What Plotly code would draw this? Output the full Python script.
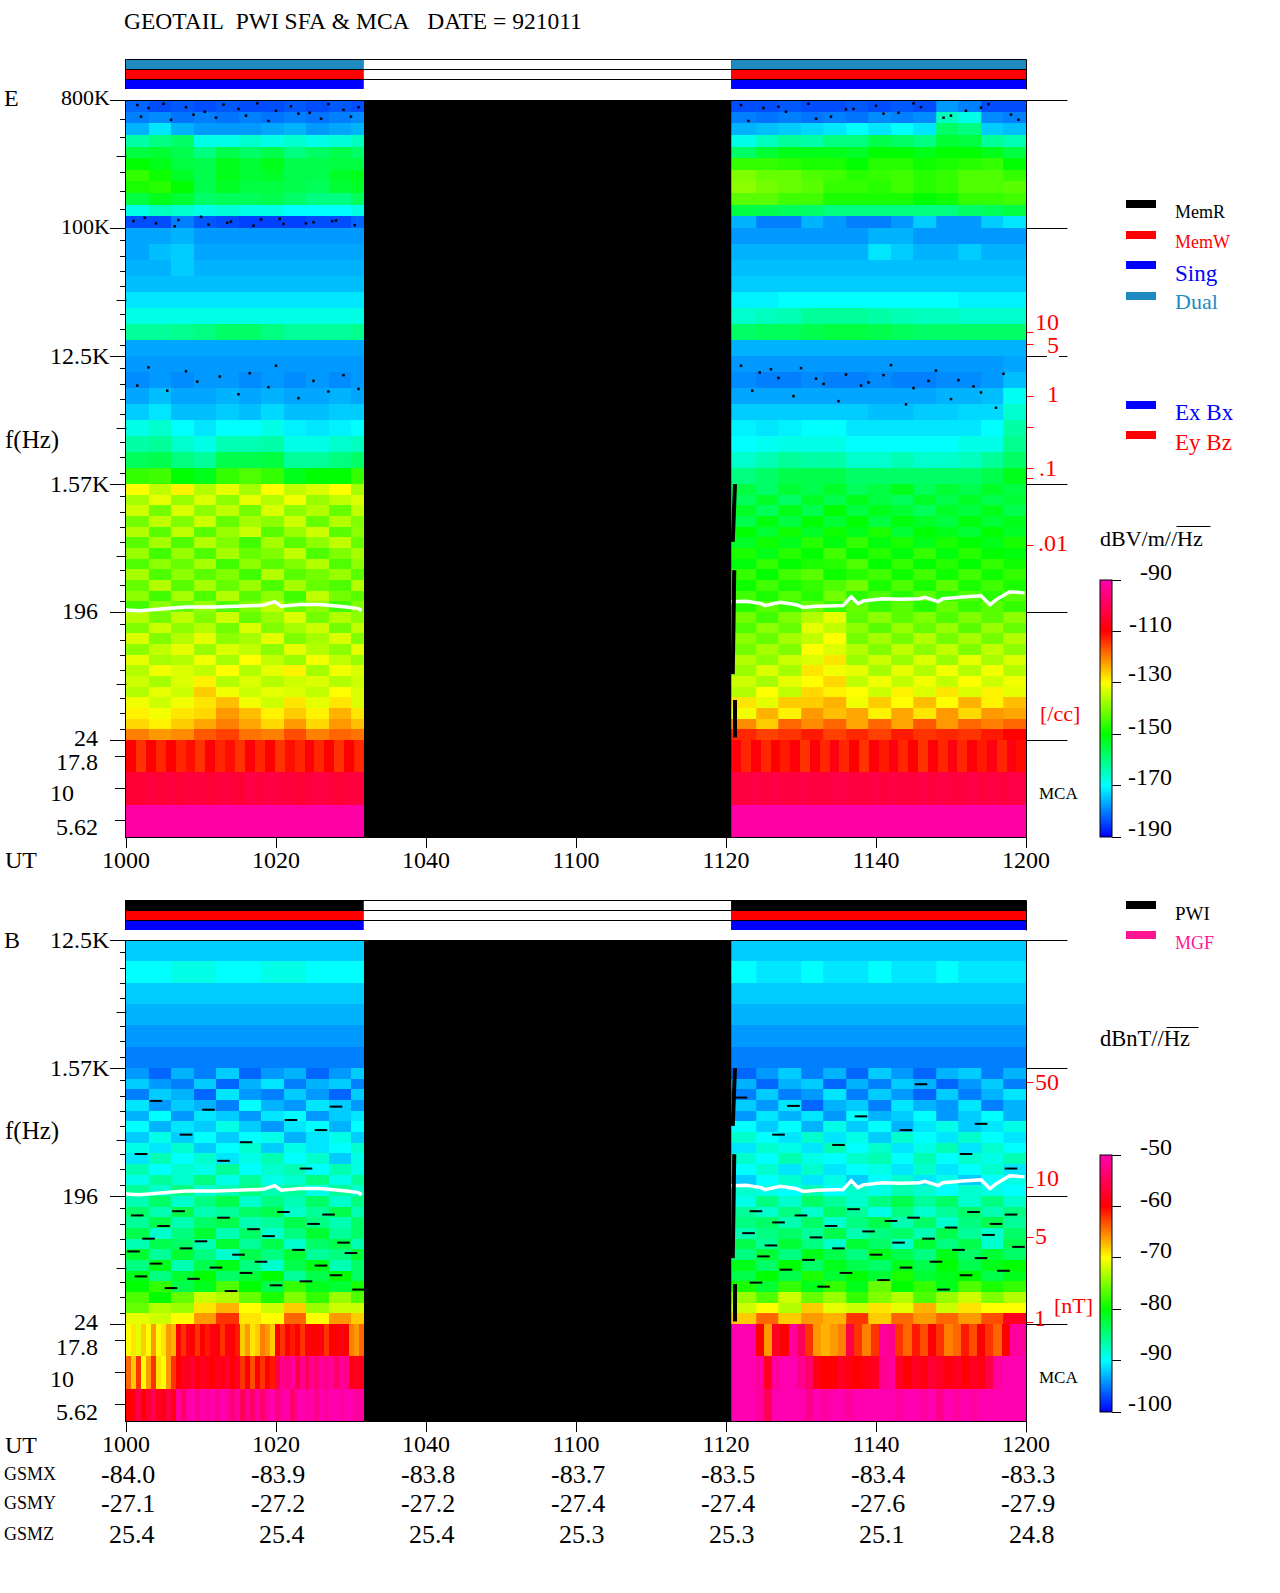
import numpy as np
import plotly.graph_objects as go

W, H = 1280, 1593
FONT = "Liberation Serif"
DUAL = "#1f8ac0"
PINK = "#ff1493"

# ---- time axis (minutes after 10:00) ----
UT_LABELS = ["1000", "1020", "1040", "1100", "1120", "1140", "1200"]
UT_TICKS = [0, 20, 40, 60, 80, 100, 120]
GSMX = ["-84.0", "-83.9", "-83.8", "-83.7", "-83.5", "-83.4", "-83.3"]
GSMY = ["-27.1", "-27.2", "-27.2", "-27.4", "-27.4", "-27.6", "-27.9"]
GSMZ = ["25.4", "25.4", "25.4", "25.3", "25.3", "25.1", "24.8"]
COL_L = [0, 3, 6, 9, 12, 15, 18, 21, 24, 27, 30, 31.7]
COL_R = [80.7, 84, 87, 90, 93, 96, 99, 102, 105, 108, 111, 114, 117, 120]

# ---- plasma line (Hz) ----
FP_T_L = [0, 1.8, 5.4, 8, 12, 15.2, 18.3, 19.8, 20.7, 23.2, 25.8, 29.4, 31, 31.4]
FP_F_L = [198, 196, 203, 208, 208, 211, 214, 227, 211, 217, 217, 208, 203, 196]
FP_T_R = [80.7, 82.7, 84.7, 85.2, 87.2, 89.4, 90.3, 92, 95.6, 96.7, 97.6, 98.3, 100.9, 103.2,
          105.8, 106.5, 108.3, 108.9, 112, 114, 115.2, 116, 117.8, 119.8]
FP_F_R = [227, 229, 220, 213, 225, 216, 207, 211, 213, 246, 220, 230, 238, 236,
          238, 244, 227, 238, 246, 250, 216, 234, 267, 262]

# ---- E field, high band (800K-100K), dB ----
E_A_L = [
 [-182,-184,-183,-184,-183,-184,-184,-183,-184,-183,-184],
 [-180,-179,-181,-180,-181,-180,-181,-180,-181,-180,-179],
 [-176,-172,-176,-178,-178,-178,-177,-176,-178,-177,-176],
 [-163,-160,-158,-168,-168,-166,-168,-166,-168,-167,-165],
 [-155,-154,-156,-160,-156,-158,-156,-160,-158,-156,-158],
 [-150,-152,-155,-156,-152,-154,-152,-156,-156,-155,-155],
 [-146,-149,-153,-156,-152,-154,-153,-156,-156,-153,-152],
 [-148,-147,-150,-156,-153,-155,-155,-156,-157,-154,-153],
 [-155,-152,-154,-158,-157,-157,-156,-158,-160,-160,-157],
 [-168,-165,-166,-168,-167,-168,-168,-170,-170,-170,-168],
 [-184,-184,-180,-183,-184,-185,-185,-185,-184,-184,-182]]
E_A_R = [
 [-184,-184,-183,-184,-184,-183,-184,-183,-184,-178,-180,-184,-184],
 [-180,-181,-180,-181,-180,-181,-179,-180,-179,-165,-168,-179,-180],
 [-176,-175,-174,-173,-172,-170,-172,-170,-172,-158,-160,-174,-175],
 [-168,-165,-162,-163,-160,-160,-156,-158,-160,-154,-155,-162,-164],
 [-158,-154,-152,-152,-152,-153,-150,-150,-152,-150,-150,-152,-155],
 [-146,-146,-147,-148,-148,-150,-147,-147,-149,-148,-147,-146,-150],
 [-140,-142,-142,-144,-145,-147,-146,-145,-147,-146,-144,-144,-146],
 [-139,-141,-142,-143,-146,-146,-147,-145,-147,-146,-144,-144,-143],
 [-143,-143,-145,-145,-148,-148,-148,-148,-150,-149,-146,-146,-145],
 [-155,-156,-157,-158,-160,-160,-160,-160,-160,-160,-158,-157,-155],
 [-176,-180,-180,-176,-178,-180,-180,-178,-174,-178,-178,-174,-172]]
# 100K-12.5K
E_B_L = [
 [-177,-177,-176,-178,-178,-178,-178,-178,-178,-178,-178],
 [-177,-175,-174,-177,-177,-177,-177,-177,-177,-177,-177],
 [-176,-176,-174,-176,-176,-176,-176,-176,-176,-176,-176],
 [-175,-175,-175,-175,-175,-175,-175,-175,-175,-175,-175],
 [-172,-172,-172,-172,-172,-172,-172,-172,-172,-172,-172],
 [-168,-168,-168,-168,-168,-168,-168,-168,-168,-168,-168],
 [-162,-162,-161,-160,-158,-158,-160,-162,-162,-162,-161],
 [-177,-177,-177,-177,-177,-177,-177,-177,-177,-177,-177]]
E_B_R = [
 [-178,-178,-178,-178,-178,-178,-176,-176,-178,-178,-178,-178,-178],
 [-176,-176,-176,-176,-176,-176,-172,-174,-176,-176,-174,-176,-176],
 [-175,-175,-175,-175,-175,-175,-175,-175,-175,-175,-175,-175,-175],
 [-174,-174,-174,-174,-174,-174,-174,-174,-174,-174,-174,-174,-174],
 [-171,-171,-170,-170,-170,-170,-170,-170,-170,-170,-171,-171,-171],
 [-166,-165,-164,-162,-162,-162,-163,-164,-165,-165,-166,-166,-166],
 [-158,-157,-157,-156,-155,-155,-156,-157,-158,-158,-158,-158,-158],
 [-176,-176,-176,-176,-176,-176,-176,-176,-176,-176,-176,-176,-176]]
# 12.5K-1.57K
E_C_L = [
 [-178,-178,-178,-178,-178,-178,-178,-178,-178,-178,-178],
 [-179,-178,-179,-178,-178,-179,-178,-179,-178,-179,-178],
 [-177,-175,-177,-177,-176,-177,-176,-177,-177,-176,-177],
 [-174,-172,-175,-175,-174,-175,-173,-175,-175,-174,-174],
 [-168,-166,-170,-172,-170,-170,-168,-171,-172,-171,-170],
 [-163,-162,-166,-168,-164,-164,-163,-168,-168,-166,-165],
 [-157,-156,-160,-162,-156,-156,-155,-162,-162,-160,-158],
 [-146,-145,-150,-152,-146,-144,-146,-152,-150,-150,-146]]
E_C_R = [
 [-178,-178,-178,-178,-178,-178,-178,-178,-178,-178,-178,-178,-177],
 [-179,-180,-180,-179,-180,-180,-179,-180,-180,-179,-179,-178,-175],
 [-177,-177,-177,-177,-177,-177,-177,-177,-177,-176,-176,-175,-169],
 [-174,-174,-174,-174,-174,-174,-175,-175,-174,-174,-173,-173,-166],
 [-171,-172,-171,-170,-170,-172,-172,-172,-172,-172,-172,-170,-163],
 [-170,-169,-168,-168,-168,-170,-170,-170,-170,-170,-168,-168,-161],
 [-166,-164,-162,-163,-163,-166,-166,-164,-166,-166,-165,-162,-158],
 [-160,-158,-156,-156,-156,-158,-158,-158,-158,-158,-158,-156,-152]]
# 1.57K-24
E_D_L = [
 [-130,-135,-129,-136,-132,-137,-130,-135,-133,-130,-137],
 [-137,-132,-138,-133,-139,-132,-136,-131,-138,-135,-133],
 [-134,-141,-133,-139,-135,-141,-133,-139,-136,-142,-135],
 [-141,-135,-140,-134,-142,-137,-139,-134,-142,-136,-140],
 [-136,-143,-135,-143,-138,-134,-143,-138,-134,-143,-139],
 [-143,-137,-144,-136,-140,-145,-137,-143,-139,-135,-142],
 [-138,-145,-138,-144,-137,-142,-140,-135,-144,-140,-137],
 [-144,-139,-142,-137,-145,-139,-143,-140,-136,-144,-139],
 [-137,-144,-139,-143,-140,-145,-136,-143,-141,-138,-143],
 [-142,-136,-143,-137,-142,-138,-144,-137,-142,-144,-136],
 [-139,-145,-137,-144,-136,-143,-139,-145,-135,-141,-143],
 [-145,-139,-142,-138,-144,-140,-135,-142,-139,-145,-140],
 [-136,-141,-135,-140,-134,-142,-138,-133,-141,-136,-139],
 [-140,-134,-139,-136,-141,-133,-140,-137,-134,-141,-135],
 [-133,-140,-136,-132,-139,-137,-132,-140,-137,-133,-140],
 [-139,-135,-132,-138,-133,-135,-139,-132,-136,-139,-132],
 [-132,-137,-136,-131,-137,-130,-135,-138,-131,-135,-138],
 [-136,-131,-133,-135,-130,-136,-132,-129,-137,-131,-133],
 [-134,-137,-133,-129,-136,-133,-136,-134,-133,-136,-134],
 [-136,-132,-134,-126,-131,-134,-132,-133,-135,-130,-133],
 [-131,-134,-131,-128,-125,-131,-134,-128,-132,-128,-133],
 [-129,-131,-128,-127,-122,-125,-129,-126,-129,-124,-128],
 [-127,-129,-126,-123,-120,-123,-127,-122,-127,-122,-125],
 [-120,-122,-121,-117,-115,-119,-120,-116,-120,-118,-119]]
E_D_R = [
 [-155,-158,-154,-156,-153,-157,-155,-152,-157,-154,-156,-153,-155],
 [-157,-153,-158,-153,-156,-152,-155,-157,-153,-156,-153,-156,-154],
 [-153,-157,-152,-156,-150,-155,-152,-154,-157,-153,-155,-152,-156],
 [-156,-151,-155,-150,-154,-150,-155,-151,-153,-155,-151,-154,-152],
 [-150,-154,-149,-153,-149,-152,-148,-154,-150,-152,-154,-150,-153],
 [-153,-149,-152,-147,-151,-146,-151,-148,-152,-148,-150,-152,-148],
 [-148,-152,-147,-150,-145,-150,-147,-151,-146,-151,-147,-150,-151],
 [-151,-146,-150,-148,-147,-144,-150,-146,-150,-147,-150,-146,-149],
 [-146,-150,-145,-143,-149,-147,-145,-149,-145,-149,-145,-149,-146],
 [-149,-145,-148,-146,-144,-141,-148,-144,-148,-143,-148,-145,-148],
 [-145,-148,-144,-147,-141,-147,-144,-147,-143,-147,-144,-147,-143],
 [-147,-143,-146,-142,-146,-142,-146,-143,-147,-142,-146,-143,-146],
 [-141,-145,-140,-136,-132,-143,-139,-143,-140,-144,-140,-143,-139],
 [-144,-139,-142,-132,-135,-139,-143,-138,-142,-138,-143,-138,-142],
 [-139,-142,-137,-135,-130,-141,-137,-141,-136,-141,-137,-141,-136],
 [-141,-137,-140,-130,-133,-136,-140,-135,-139,-135,-140,-135,-139],
 [-136,-139,-134,-133,-128,-138,-134,-138,-133,-138,-132,-137,-133],
 [-138,-133,-137,-128,-131,-132,-137,-132,-136,-131,-136,-131,-136],
 [-134,-137,-132,-130,-127,-135,-131,-135,-131,-135,-130,-134,-131],
 [-136,-130,-135,-127,-129,-130,-134,-129,-133,-128,-133,-129,-132],
 [-128,-132,-126,-126,-124,-131,-126,-130,-125,-130,-124,-129,-125],
 [-131,-124,-129,-122,-125,-123,-129,-123,-128,-122,-127,-122,-123],
 [-121,-126,-118,-121,-118,-123,-118,-123,-117,-122,-118,-120,-118],
 [-113,-115,-114,-112,-115,-113,-115,-112,-114,-113,-114,-112,-110]]
# MCA rows, E: 17.8, 10, 5.62
E_M178_L = [-110,-114,-110,-113,-110,-113,-111,-114,-109,-113,-111,-114,-109,-113,-110,-114,-111,-113,-109,-113,-110,-114,-110,-113]
E_M178_R = [-109,-113,-109,-113,-110,-112,-109,-114,-109,-113,-108,-113,-110,-114,-109,-112,-108,-113,-110,-114,-109,-113,-108,-113,-109,-112,-108,-113,-108,-111]
E_M10_L = [-104,-104,-103,-104,-103,-104,-103,-103,-104,-103,-103,-104,-102,-103,-102,-103,-103,-104,-103,-102,-103,-104,-103,-103]
E_M10_R = [-103,-103,-102,-103,-102,-103,-103,-102,-103,-103,-102,-102,-103,-103,-102,-103,-102,-103,-103,-102,-103,-102,-103,-103,-102,-103,-102,-103,-102,-102]
E_M5_L = [-91, -91, -91, -91, -91, -91, -91, -91, -91, -91, -91, -91, -91, -91, -91, -91, -91, -91, -91, -91, -91, -91, -91, -91]
E_M5_R = [-91, -91, -91, -91, -91, -91, -91, -91, -91, -91, -91, -91, -91, -91, -91, -91, -91, -91, -91, -91, -91, -91, -91, -91, -91, -91, -91, -91, -91, -91]

# ---- B field, 12.5K-1.57K, dB ----
B_C_L = [
 [-92,-92,-92,-92,-92,-92,-92,-92,-92,-92,-92],
 [-90,-90,-89,-89,-90,-90,-89,-89,-90,-90,-90],
 [-92,-92,-92,-92,-92,-92,-92,-92,-92,-92,-92],
 [-93,-93,-93,-93,-93,-93,-93,-93,-93,-93,-93],
 [-94,-94,-94,-94,-94,-94,-94,-94,-94,-94,-94],
 [-95,-95,-95,-95,-95,-95,-95,-95,-95,-95,-95]]
B_C_R = [
 [-92,-92,-92,-92,-92,-92,-92,-92,-92,-92,-92,-92,-92],
 [-90,-91,-91,-90,-91,-91,-90,-91,-91,-90,-91,-91,-91],
 [-92,-92,-92,-92,-92,-92,-92,-92,-92,-92,-92,-92,-92],
 [-93,-93,-93,-93,-93,-93,-93,-93,-93,-93,-93,-93,-93],
 [-94,-94,-94,-94,-94,-94,-94,-94,-94,-94,-94,-94,-94],
 [-95,-95,-95,-95,-95,-95,-95,-95,-95,-95,-95,-95,-95]]
# 1.57K-24
B_D_L = [
 [-94,-96,-93,-95,-92,-96,-94,-93,-96,-94,-92],
 [-92,-94,-95,-92,-96,-93,-91,-95,-93,-92,-95],
 [-95,-92,-93,-96,-91,-94,-95,-92,-94,-96,-92],
 [-91,-94,-92,-93,-95,-90,-93,-94,-91,-92,-94],
 [-93,-90,-94,-91,-92,-94,-91,-90,-94,-92,-91],
 [-90,-93,-91,-92,-89,-92,-94,-91,-90,-93,-90],
 [-92,-89,-92,-90,-92,-90,-89,-93,-91,-89,-92],
 [-89,-91,-88,-92,-90,-88,-92,-89,-91,-90,-88],
 [-91,-87,-90,-88,-91,-89,-87,-90,-88,-92,-89],
 [-87,-90,-88,-89,-86,-90,-88,-87,-90,-87,-89],
 [-89,-86,-88,-85,-89,-86,-89,-88,-85,-89,-86],
 [-86,-88,-85,-88,-87,-85,-87,-86,-89,-86,-88],
 [-87,-84,-88,-85,-83,-88,-85,-87,-84,-88,-85],
 [-84,-87,-83,-87,-86,-84,-83,-88,-86,-83,-87],
 [-86,-83,-87,-84,-83,-87,-86,-83,-85,-87,-84],
 [-83,-88,-85,-82,-87,-84,-88,-85,-82,-86,-84],
 [-87,-83,-84,-87,-82,-86,-83,-88,-84,-83,-87],
 [-82,-86,-82,-85,-88,-83,-85,-82,-86,-85,-82],
 [-85,-81,-87,-83,-81,-85,-88,-83,-81,-87,-84],
 [-81,-85,-82,-80,-84,-82,-80,-86,-83,-80,-84],
 [-80,-78,-83,-81,-77,-80,-83,-78,-81,-82,-79],
 [-77,-80,-76,-72,-73,-76,-79,-75,-78,-74,-77],
 [-76,-73,-74,-69,-67,-70,-72,-68,-74,-72,-72],
 [-71,-72,-70,-66,-62,-69,-70,-64,-70,-66,-68]]
B_D_R = [
 [-96,-94,-92,-95,-93,-96,-92,-94,-96,-93,-92,-95,-93],
 [-93,-96,-93,-92,-96,-93,-95,-92,-93,-96,-94,-92,-95],
 [-95,-92,-95,-94,-91,-95,-92,-94,-96,-92,-95,-93,-91],
 [-92,-94,-91,-96,-93,-92,-95,-91,-93,-94,-91,-95,-93],
 [-94,-91,-93,-91,-94,-90,-93,-92,-90,-94,-92,-90,-93],
 [-90,-92,-90,-93,-89,-92,-90,-93,-91,-89,-92,-91,-89],
 [-88,-90,-91,-88,-91,-89,-92,-88,-90,-91,-88,-90,-91],
 [-91,-88,-89,-91,-87,-90,-88,-91,-89,-87,-91,-88,-90],
 [-88,-90,-87,-89,-90,-88,-87,-90,-87,-90,-88,-89,-87],
 [-90,-88,-91,-88,-91,-90,-89,-91,-88,-91,-90,-88,-91],
 [-92,-90,-88,-91,-89,-92,-90,-88,-91,-89,-92,-90,-89],
 [-88,-89,-90,-87,-90,-88,-89,-87,-88,-90,-88,-89,-90],
 [-89,-85,-88,-84,-86,-88,-85,-83,-86,-84,-88,-85,-88],
 [-86,-88,-85,-88,-84,-86,-89,-85,-88,-86,-84,-87,-85],
 [-85,-84,-87,-84,-88,-85,-83,-87,-84,-88,-85,-83,-86],
 [-87,-85,-84,-86,-83,-87,-85,-84,-87,-83,-86,-88,-84],
 [-83,-86,-82,-85,-88,-82,-84,-88,-82,-85,-83,-88,-83],
 [-85,-82,-85,-81,-83,-85,-81,-83,-85,-81,-84,-82,-84],
 [-81,-84,-80,-84,-81,-83,-84,-81,-83,-80,-83,-81,-80],
 [-83,-80,-83,-79,-82,-80,-82,-79,-82,-81,-80,-83,-81],
 [-79,-82,-78,-81,-78,-81,-76,-80,-78,-81,-77,-79,-78],
 [-74,-77,-72,-76,-74,-78,-75,-73,-77,-74,-72,-75,-73],
 [-72,-70,-73,-68,-71,-72,-69,-71,-67,-72,-69,-70,-70],
 [-68,-64,-68,-66,-67,-62,-68,-64,-66,-64,-66,-63,-58]]
# MCA rows, B
B_M178_L = [-70,-69,-71,-68,-70,-66,-70,-69,-66,-67,-60,-62,-59,-60,-62,-60,-61,-59,-60,-62,-59,-60,-61,-68,-66,-69,-68,-65,-66,-68,-60,-62,-60,-61,-60,-62,-59,-60,-60,-59,-62,-60,-60,-59,-60,-65,-66,-64]
B_M10_L = [-64,-68,-62,-70,-66,-62,-69,-70,-66,-62,-60,-58,-59,-57,-60,-58,-59,-60,-58,-59,-57,-60,-58,-62,-60,-63,-60,-62,-60,-61,-56,-52,-53,-51,-56,-52,-55,-52,-53,-51,-52,-51,-54,-51,-52,-59,-58,-59]
B_M5_L = [-60,-59,-56,-60,-57,-55,-58,-59,-56,-59,-51,-54,-51,-50,-52,-50,-51,-50,-52,-50,-51,-53,-51,-55,-52,-54,-51,-54,-51,-50,-53,-51,-50,-54,-51,-50,-51,-50,-52,-50,-51,-50,-50,-51,-50,-50,-51,-51]
B_M178_R = [-50,-50,-50,-60,-66,-58,-60,-51,-55,-62,-66,-67,-66,-65,-56,-62,-65,-62,-51,-52,-62,-64,-61,-63,-60,-62,-65,-64,-61,-63,-60,-62,-64,-60,-51,-51]
B_M10_R = [-50,-50,-50,-51,-58,-51,-50,-50,-52,-54,-59,-60,-60,-58,-59,-60,-59,-58,-52,-51,-58,-60,-58,-59,-57,-58,-59,-58,-60,-58,-59,-56,-51,-50,-50,-50]
B_M5_R = [-50,-50,-50,-51,-55,-50,-50,-50,-50,-52,-50,-51,-50,-50,-51,-50,-50,-50,-50,-50,-51,-50,-50,-51,-50,-52,-50,-51,-50,-51,-50,-50,-50,-50,-50,-50]

MCA_FREQ = ["5.62", "10", "17.8"]
# ---- data gap edges at restart (minutes, Hz) ----
GAP_T = [81.2, 80.9, None, 81.1, 80.9, None, 81.2, 81.2]
GAP_F = [1536, 600, None, 379, 70, None, 46, 25]
# ---- dropout specks (minutes, Hz) ----
E_SPECK_T = [1.5, 3, 5, 8, 10.5, 13, 15, 17.5, 20, 22, 24.5, 27, 29, 31, 2, 6, 9, 12, 16, 19, 23, 26, 30,
             1, 4, 7, 11, 14, 18, 21, 25, 28, 30.5, 2.5, 6.5, 10, 13.5, 17, 20.5, 24, 27.5,
             3, 8, 12.5, 16.5, 20, 25, 29, 1.5, 5.5, 9.5, 15, 19, 23, 27, 31,
             82, 85, 88, 91, 94, 97, 100, 103, 106, 109, 112, 115, 118, 83, 87, 92, 96, 101, 105, 110, 114, 119,
             82, 84.5, 87, 90, 93, 96, 99, 102, 105, 108, 111, 114, 117, 83.5, 86, 89, 92, 95, 98, 101, 104, 107, 110, 113, 116]
E_SPECK_F = [725000, 690000, 740000, 700000, 650000, 730000, 680000, 745000, 660000, 710000, 640000, 735000, 670000, 700000,
             600000, 570000, 620000, 590000, 610000, 560000, 630000, 580000, 600000,
             110000, 106000, 112000, 104000, 109000, 113000, 105000, 108000, 111000, 103000, 116000, 101000, 118000, 107000, 102000, 114000, 106000, 110000,
             10200, 9600, 8800, 9300, 10500, 8200, 9000, 7600, 7000, 8100, 6600, 7400, 6200, 6900, 7200,
             725000, 690000, 650000, 740000, 600000, 680000, 715000, 640000, 700000, 590000, 660000, 735000, 620000, 560000, 705000, 580000, 675000, 630000, 745000, 610000, 695000, 570000,
             10500, 9400, 8600, 10100, 7800, 9100, 8000, 10600, 7300, 9700, 8300, 6800, 9200, 7000, 9900, 6400, 8500, 5900, 7600, 9000, 5600, 8200, 6100, 7500, 5300]
B_STREAK_T = [1.5, 7, 13, 21, 27, 5, 17, 25, 3, 10, 19, 29, 1, 8, 15, 23, 30, 4, 12, 18, 26, 2, 9, 16, 24, 28, 6, 14, 20, 31,
              4, 11, 22, 28, 8, 16, 26, 2, 13, 24,
              84, 90, 97, 105, 113, 118, 87, 94, 102, 110, 116, 83, 92, 99, 107, 115, 86, 95, 103, 111, 119, 85, 91, 100, 108, 114, 88, 96, 104, 112, 117, 84, 93, 101, 109,
              82, 89, 98, 106, 114, 87, 95, 104, 112, 118]
B_STREAK_F = [140, 150, 135, 148, 142, 118, 112, 122, 96, 92, 100, 90, 78, 82, 74, 80, 76, 64, 60, 66, 62, 52, 50, 55, 48, 53, 43, 41, 45, 42,
              900, 780, 660, 820, 520, 460, 560, 380, 340, 300,
              150, 140, 155, 135, 148, 142, 125, 118, 128, 115, 122, 105, 98, 108, 96, 102, 86, 82, 90, 80, 84, 72, 68, 74, 66, 70, 58, 55, 60, 53, 57, 47, 44, 49, 42,
              950, 830, 700, 1180, 620, 520, 440, 560, 380, 300]
# ---- telemetry status ----
STATUS_START = [0, 31.7, 80.7]
STATUS_DUR = [31.7, 49, 39.3]
E_STATUS = [["blue", "white", "blue"], ["red", "white", "red"], [DUAL, "white", DUAL]]
B_STATUS = [["blue", "white", "blue"], ["red", "white", "red"], ["black", "white", "black"]]

CS = [[0, "#0000ff"], [0.2, "#00ffff"], [0.4, "#00ff00"], [0.6, "#ffff00"], [0.8, "#ff0000"], [1, "#ff00b0"]]

px = lambda x: x / W
py = lambda y: 1 - y / H
hz = lambda y, base: 24 * 8 ** ((base - y) / 128)

fig = go.Figure()
XD = [px(126), px(1026)]
LOGR = [np.log10(24), np.log10(786432)]
shapes, notes = [], []


def add_heat(z, x, y, xa, ya, ca):
    fig.add_trace(go.Heatmap(z=z[::-1], x=x, y=y[::-1], xaxis=xa, yaxis=ya, coloraxis=ca, hoverinfo="skip"))


def line(x0, y0, x1, y1, c="black", w=1):
    shapes.append(dict(type="line", xref="paper", yref="paper", x0=px(x0 + 0.5), x1=px(x1 + 0.5), y0=py(y0 + 0.5), y1=py(y1 + 0.5),
                       line=dict(color=c, width=w)))


def note(x, y, t, c="black", s=24, a="center", bg=None):
    d = dict(xref="paper", yref="paper", x=px(x), y=py(y), text=t, showarrow=False, xanchor=a, yanchor="middle",
             font=dict(family=FONT, size=s, color=c), borderpad=0, borderwidth=0)
    if bg:
        d["bgcolor"] = bg
    notes.append(d)


def panel(suffix, ca, bands, mca, status, marks):
    xa = "x" + suffix[0]
    y_sfa, y_mca, y_st = suffix[1], suffix[2], suffix[3]
    for (zl, zr, f_hi, f_lo) in bands:
        edges = np.geomspace(f_hi, f_lo, len(zl) + 1).tolist()
        add_heat(zl, COL_L, edges, xa, y_sfa, ca)
        add_heat(zr, COL_R, edges, xa, y_sfa, ca)
    for zrows, edges_t in mca:
        fig.add_trace(go.Heatmap(z=zrows, x=edges_t, y=MCA_FREQ, xaxis=xa, yaxis=y_mca, coloraxis=ca, hoverinfo="skip"))
    fig.add_trace(go.Scatter(x=marks[0], y=marks[1], mode="markers", xaxis=xa, yaxis=y_sfa, marker=marks[2],
                             hoverinfo="skip", showlegend=False))
    for t, f in [(FP_T_L, FP_F_L), (FP_T_R, FP_F_R)]:
        fig.add_trace(go.Scatter(x=t, y=f, mode="lines", line=dict(color="white", width=3.5), xaxis=xa, yaxis=y_sfa,
                                 hoverinfo="skip", showlegend=False))
    fig.add_trace(go.Scatter(x=GAP_T, y=GAP_F, mode="lines", line=dict(color="black", width=4), xaxis=xa, yaxis=y_sfa,
                             hoverinfo="skip", showlegend=False))
    for r, cols in enumerate(status):
        fig.add_trace(go.Bar(x=STATUS_DUR, base=STATUS_START, y=[r] * 3, orientation="h", width=1,
                             marker=dict(color=cols, line=dict(width=0)), xaxis=xa, yaxis=y_st,
                             hoverinfo="skip", showlegend=False))


E_LM = np.linspace(0, 31.7, 25).tolist()
E_RM = np.linspace(80.7, 120, 31).tolist()
B_LM = np.linspace(0, 31.7, 49).tolist()
B_RM = np.linspace(80.7, 120, 37).tolist()

panel(("", "y", "y2", "y3"), "coloraxis",
      [(E_A_L, E_A_R, 786432, 98304), (E_B_L, E_B_R, 98304, 12288), (E_C_L, E_C_R, 12288, 1536), (E_D_L, E_D_R, 1536, 24)],
      [([E_M5_L, E_M10_L, E_M178_L], E_LM), ([E_M5_R, E_M10_R, E_M178_R], E_RM)], E_STATUS,
      (E_SPECK_T, E_SPECK_F, dict(color="black", symbol="square", size=2.5, line=dict(width=0))))
panel(("2", "y4", "y5", "y6"), "coloraxis2",
      [(B_C_L, B_C_R, 12288, 1536), (B_D_L, B_D_R, 1536, 24)],
      [([B_M5_L, B_M10_L, B_M178_L], B_LM), ([B_M5_R, B_M10_R, B_M178_R], B_RM)], B_STATUS,
      (B_STREAK_T, B_STREAK_F, dict(color="black", symbol="line-ew", size=9, line=dict(color="black", width=2))))

OCT = [12, 28, 43, 58, 86, 101, 117]
E_minor = [hz(100 + o, 740) for o in [19, 37, 72, 91, 109]]
for m in [228, 356, 484, 612]:
    E_minor += [hz(m + o, 740) for o in OCT]
B_minor = []
for m in [940, 1068, 1196]:
    B_minor += [hz(m + o, 1324) for o in OCT]
MAJ_E = [24, 192, 1536, 12288, 98304, 786432]
MAJ_B = [24, 192, 1536, 12288]


def yaxis(d0, d1, rng, ticks, minor=None, log=True, tl=15, anchor="x"):
    a = dict(domain=[py(d1), py(d0)], range=rng, anchor=anchor, tickmode="array", tickvals=ticks, ticks="outside",
             ticklen=tl, tickcolor="black", tickwidth=1, showticklabels=False, showline=True, linecolor="black",
             linewidth=1, showgrid=False, zeroline=False)
    if log:
        a["type"] = "log"
    if minor:
        a["minor"] = dict(tickmode="array", tickvals=minor, ticks="outside", ticklen=5, tickcolor="black", tickwidth=1, showgrid=False)
    return a


def stat_axis(d0, d1, anchor):
    return dict(domain=[py(d1), py(d0)], range=[-0.5, 2.5], anchor=anchor, showticklabels=False, ticks="", showgrid=False,
                zeroline=False, showline=True, linecolor="black", linewidth=1)


def xaxis(anchor):
    return dict(domain=XD, range=[0, 120], anchor=anchor, tickmode="array", tickvals=UT_TICKS, ticktext=UT_LABELS,
                ticks="outside", ticklen=10, tickcolor="black", tickwidth=1, showline=True, linecolor="black", linewidth=1,
                showgrid=False, zeroline=False, tickfont=dict(family=FONT, size=24, color="black"), tickangle=0,
                ticklabelstandoff=-9)


def mca_axis(d0, d1, anchor):
    a = yaxis(d0, d1, [-0.5, 2.5], MCA_FREQ, None, False, 10, anchor)
    a["type"] = "category"
    a["categoryorder"] = "array"
    a["categoryarray"] = MCA_FREQ
    return a


def cbar(y0, y1, vals):
    return dict(x=px(1100), xanchor="left", xpad=0, y=py(y1), yanchor="bottom", ypad=0, len=y1 - y0, lenmode="pixels",
                thickness=12, thicknessmode="pixels", tickmode="array", tickvals=vals, showticklabels=False, ticks="outside",
                ticklen=9, tickcolor="black", tickwidth=1, outlinecolor="black", outlinewidth=1, borderwidth=0)


# ----- axis extension lines, red density / field ticks, texts -----
for y in [100, 228, 356, 484, 612, 740]:
    line(1026, y, 1067, y)
line(110, 100, 1026, 100)
for y in [156, 300, 428, 556, 684]:
    line(116, y, 126, y)
line(1026, 100, 1026, 847)
for y in [332, 344, 396, 427, 468, 478, 545]:
    line(1026, y, 1033, y, "red")
for y in [940, 1068, 1196, 1324]:
    line(1026, y, 1067, y)
line(110, 940, 1026, 940)
for y in [1012, 1140, 1268]:
    line(116, y, 126, y)
line(1026, 940, 1026, 1432)
for y in [1082, 1187, 1237, 1322]:
    line(1026, y, 1033, y, "red")
for top in [59, 900]:
    for k in range(1, 3):
        line(126, top + 10 * k, 1026, top + 10 * k)
    line(126, top, 1026, top)
    line(1026, top, 1026, top + 30)

note(124, 21, "GEOTAIL\u00a0\u00a0PWI\u00a0SFA\u00a0&\u00a0MCA\u00a0\u00a0\u00a0DATE\u00a0=\u00a0921011", s=23.5, a="left")
note(4, 98, "E", a="left")
for t, y, s in [("800K", 98, 22), ("100K", 227, 22), ("12.5K", 356, 24), ("1.57K", 484, 24)]:
    note(110, y, t, a="right", s=s)
note(5, 440, "f(Hz)", a="left", s=25)
for t, y in [("196", 611), ("24", 738), ("17.8", 762), ("5.62", 827)]:
    note(98, y, t, a="right")
note(74, 793, "10", a="right")
note(5, 860, "UT", a="left")
for t, x, y in [("10", 1047, 322), ("5", 1053, 345), ("1", 1053, 394), (".1", 1048, 468), (".01", 1053, 543)]:
    note(x, y, t, "red", bg="white" if t == "5" else None)
note(1060, 713, "[/cc]", "red", 22)
note(1058, 793, "MCA", s=17)
note(1100, 538, "dBV/m//Hz", s=22, a="left")
line(1176, 526, 1210, 526)
for t, y in [("-90", 572), ("-110", 624), ("-130", 673), ("-150", 726), ("-170", 777), ("-190", 828)]:
    note(1172, y, t, a="right")

note(4, 940, "B", a="left")
for t, y in [("12.5K", 940), ("1.57K", 1068)]:
    note(110, y, t, a="right")
note(5, 1131, "f(Hz)", a="left", s=25)
for t, y in [("196", 1196), ("24", 1322), ("17.8", 1347), ("5.62", 1412)]:
    note(98, y, t, a="right")
note(74, 1379, "10", a="right")
note(5, 1445, "UT", a="left")
for t, x, y in [("50", 1047, 1082), ("10", 1047, 1178), ("5", 1041, 1236), ("1", 1040, 1318)]:
    note(x, y, t, "red")
note(1073, 1305, "[nT]", "red", 22)
note(1058, 1377, "MCA", s=17)
note(1100, 1038, "dBnT//Hz", s=22.5, a="left")
line(1166, 1027, 1198, 1027)
for t, y in [("-50", 1147), ("-60", 1199), ("-70", 1250), ("-80", 1302), ("-90", 1352), ("-100", 1403)]:
    note(1172, y, t, a="right")
for name, row, y in [("GSMX", GSMX, 1474), ("GSMY", GSMY, 1503), ("GSMZ", GSMZ, 1534)]:
    note(4, y, name, a="left", s=18)
    for k, v in enumerate(row):
        note(154.5 + 150 * k, y, v, a="right", s=26)

LEG = [("MemR", "black", 204, 212, 18), ("MemW", "red", 235, 242, 18), ("Sing", "blue", 265, 273, 23), ("Dual", DUAL, 296, 302, 22),
       ("Ex Bx", "blue", 405, 412, 23), ("Ey Bz", "red", 435, 442, 23), ("PWI", "black", 905, 913, 19), ("MGF", PINK, 935, 943, 18)]
for t, c, yb, yt, s in LEG:
    shapes.append(dict(type="rect", xref="paper", yref="paper", x0=px(1126), x1=px(1156), y0=py(yb + 4), y1=py(yb - 4),
                       fillcolor=c, line=dict(width=0)))
    note(1175, yt, t, c, s, "left")

fig.update_layout(
    width=W, height=H, margin=dict(l=0, r=0, t=0, b=0, autoexpand=False), paper_bgcolor="white", plot_bgcolor="black",
    showlegend=False, barmode="overlay", shapes=shapes, annotations=notes,
    coloraxis=dict(colorscale=CS, cmin=-190, cmax=-90, colorbar=cbar(580, 837, [-190, -170, -150, -130, -110, -90])),
    coloraxis2=dict(colorscale=CS, cmin=-100, cmax=-50, colorbar=cbar(1155, 1412, [-100, -90, -80, -70, -60, -50])),
    xaxis=xaxis("y2"), xaxis2=xaxis("y5"),
    yaxis=yaxis(100, 740, LOGR, MAJ_E, E_minor), yaxis2=mca_axis(740, 837, "x"), yaxis3=stat_axis(59, 89, "x"),
    yaxis4=yaxis(940, 1324, LOGR[:1] + [np.log10(12288)], MAJ_B, B_minor, anchor="x2"), yaxis5=mca_axis(1324, 1421, "x2"),
    yaxis6=stat_axis(900, 930, "x2"),
)
fig.write_html("out.html", config={"displayModeBar": False}, post_script="document.body.style.margin='0';")
